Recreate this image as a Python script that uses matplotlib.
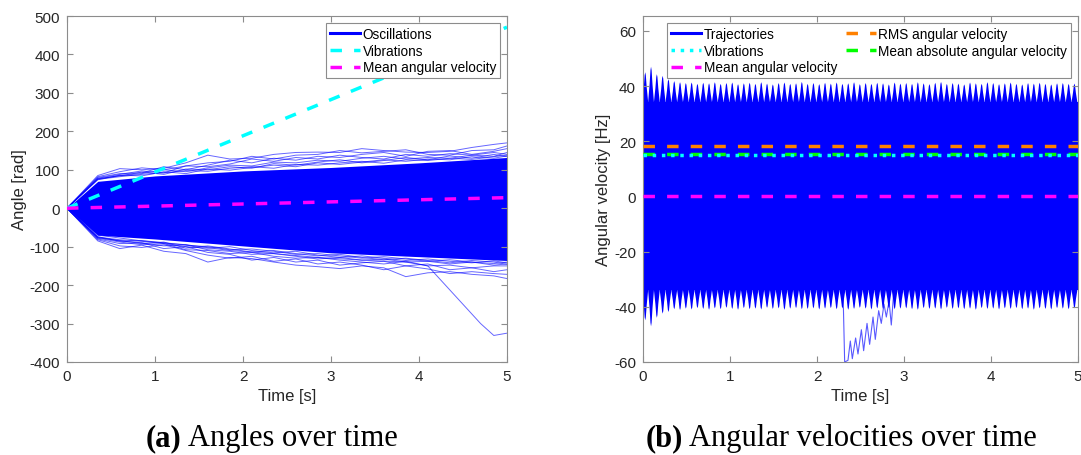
import numpy as np
import matplotlib
matplotlib.use("Agg")
import matplotlib.pyplot as plt
from matplotlib.lines import Line2D

# ---------------- data: (a) angles over time ----------------
angle_core_t = [0, 0.35, 1.0, 2.0, 3.0, 4.0, 5.0]
angle_core_upper = [0, 70, 84, 97, 106, 118, 132]
angle_core_lower = [0, -70, -80, -98, -116, -126, -136]

fringe_t = [0, 0.35, 0.6, 0.85, 1.1, 1.35, 1.6, 1.85, 2.1, 2.35, 2.6,
            2.85, 3.1, 3.35, 3.6, 3.85, 4.1, 4.35, 4.6, 4.85, 5.0]
fringe_upper = [
    [0, 85, 103, 100, 104, 118, 138, 128, 130, 140, 145, 146, 145, 155, 150, 146, 145, 148, 158, 166, 170],
    [0, 82, 95, 105, 100, 110, 118, 122, 135, 128, 138, 140, 150, 144, 148, 152, 140, 138, 150, 152, 162],
    [0, 80, 90, 92, 108, 100, 112, 125, 118, 130, 125, 135, 132, 140, 145, 135, 148, 150, 140, 148, 155],
    [0, 78, 88, 97, 92, 110, 108, 115, 128, 122, 132, 128, 138, 132, 128, 140, 135, 142, 138, 145, 140],
    [0, 76, 85, 90, 100, 95, 105, 112, 110, 120, 118, 125, 122, 130, 135, 128, 132, 130, 138, 135, 145],
    [0, 75, 82, 88, 92, 98, 96, 104, 108, 104, 114, 112, 118, 122, 117, 126, 124, 130, 127, 134, 138],
    [0, 74, 86, 84, 95, 90, 102, 99, 106, 112, 108, 118, 114, 120, 126, 122, 128, 126, 134, 130, 136],
    [0, 77, 84, 94, 88, 102, 100, 108, 104, 116, 112, 120, 126, 118, 124, 132, 126, 136, 130, 140, 134],
]
fringe_lower = [
    [0, -85, -105, -96, -112, -118, -140, -128, -131, -140, -148, -152, -157, -150, -155, -178, -168, -165, -172, -176, -183],
    [0, -82, -98, -102, -95, -110, -122, -130, -125, -138, -132, -145, -140, -148, -160, -150, -158, -170, -165, -170, -172],
    [0, -80, -92, -90, -105, -100, -115, -120, -135, -128, -140, -135, -148, -142, -138, -150, -145, -160, -155, -165, -160],
    [0, -78, -88, -95, -92, -108, -110, -118, -115, -125, -130, -128, -135, -140, -145, -138, -150, -148, -155, -150, -150],
    [0, -76, -85, -90, -98, -95, -108, -112, -120, -118, -125, -132, -128, -135, -132, -140, -138, -145, -140, -148, -145],
    [0, -75, -82, -86, -92, -100, -104, -100, -110, -116, -112, -122, -128, -124, -130, -136, -132, -138, -142, -137, -142],
    [0, -74, -86, -84, -90, -96, -100, -108, -106, -112, -120, -118, -124, -130, -126, -132, -138, -134, -140, -144, -140],
    [0, -77, -84, -92, -88, -104, -98, -106, -114, -110, -118, -124, -120, -128, -134, -130, -136, -142, -136, -140, -146],
]
outlier_t = [0, 0.35, 0.85, 1.35, 1.85, 2.35, 2.85, 3.35, 3.85, 4.1, 4.3, 4.5, 4.7, 4.85, 5.0]
outlier_v = [0, -70, -85, -95, -110, -118, -128, -135, -140, -150, -200, -250, -300, -331, -325]

angle_vib_t = [0, 5]
angle_vib_v = [0, 471]
angle_mean_t = [0, 5]
angle_mean_v = [0, 27.5]

# ---------------- data: (b) angular velocities over time ----------------
vel_spike_hz = 15.0
vel_first_spike_t = 0.02
vel_upper_trough = 34.4
vel_lower_trough = -33.8
vel_upper_peaks = [
    45.2, 47.2, 44.5, 43.9, 42.7, 42.0, 41.6, 41.3, 41.5, 41.0, 41.4, 41.2, 41.6, 41.0, 41.3,
    41.5, 40.9, 41.2, 41.4, 41.0, 41.6, 41.1, 40.8, 41.3, 41.5, 41.0, 41.2, 41.7, 41.0, 41.3,
    40.9, 41.4, 41.1, 41.5, 41.0, 41.2, 41.6, 40.9, 41.3, 41.0, 41.4, 41.2, 40.8, 41.5, 41.1,
    41.3, 41.0, 41.6, 41.2, 40.9, 41.4, 41.7, 41.0, 41.3, 41.1, 40.8, 41.5, 41.2, 41.0, 41.6,
    41.3, 40.9, 41.2, 41.5, 41.0, 40.8, 41.3, 41.1, 41.4, 41.0, 40.8, 41.2, 41.3, 41.0, 41.1,
]
vel_lower_peaks = [
    -44.7, -46.9, -43.8, -42.3, -41.7, -40.7, -41.0, -40.5, -40.8, -40.3, -40.6, -40.9, -40.4, -40.7, -40.2,
    -40.6, -40.9, -40.3, -40.7, -40.5, -40.8, -40.2, -40.6, -40.4, -40.9, -40.5, -40.3, -40.7, -40.6, -40.4,
    -40.8, -40.5, -40.3, -40.7, -40.4, -40.9, -40.6, -40.2, -40.5, -40.8, -40.4, -40.6, -40.3, -40.7, -40.5,
    -40.4, -40.7, -40.9, -40.3, -40.6, -40.5, -40.8, -40.2, -40.6, -40.4, -40.7, -40.5, -40.9, -40.3, -40.6,
    -40.5, -40.8, -40.4, -40.6, -40.3, -40.7, -40.5, -40.9, -40.4, -40.6, -40.8, -40.3, -40.5, -40.7, -40.4,
]
dip_t = [2.30, 2.318, 2.356, 2.383, 2.406, 2.444, 2.471, 2.51, 2.536, 2.575, 2.605,
         2.644, 2.67, 2.709, 2.739, 2.77, 2.797, 2.828, 2.854, 2.88]
dip_v = [-35.5, -60, -59.4, -52.4, -58.8, -51.3, -57.1, -48.3, -55.9, -46.0, -53.6,
         -43.7, -51.8, -41.4, -46.0, -39.0, -43.7, -37.9, -46.6, -35.5]

vel_rms = 18.4
vel_mean_abs = 15.5
vel_vib = 15.0
vel_mean = 0.0

# ---------------- styling ----------------
plt.rcParams['font.family'] = ['Liberation Sans', 'DejaVu Sans']
plt.rcParams['axes.unicode_minus'] = False

BLUE = (0, 0, 1)
CYAN = (0, 1, 1)
MAGENTA = (1, 0, 1)
ORANGE = (1, 0.5, 0)
GREEN = (0, 1, 0)
DASH = (3.3, 3.5)

fig = plt.figure(figsize=(10.81, 4.56), dpi=100)
W, H = 1081, 456
ax1 = fig.add_axes([67 / W, 1 - 363 / H, 440 / W, 346 / H])
ax2 = fig.add_axes([643 / W, 1 - 363 / H, 435 / W, 346 / H])


def style(ax):
    for s in ax.spines.values():
        s.set_color('#8c8c8c')
        s.set_linewidth(0.8)
    ax.tick_params(direction='in', top=True, right=True, length=4, width=0.8,
                   color='#8c8c8c', labelsize=11, labelcolor='#262626', pad=5)


# ---------------- panel (a) ----------------
ax1.fill_between(angle_core_t, angle_core_lower, angle_core_upper, color=BLUE, lw=0, zorder=1)
for vals in fringe_upper + fringe_lower:
    ax1.plot(fringe_t, vals, color=BLUE, lw=0.7, alpha=0.6, zorder=2)
ax1.plot(outlier_t, outlier_v, color=BLUE, lw=0.7, alpha=0.6, zorder=2)
ax1.plot(angle_vib_t, angle_vib_v, color=CYAN, lw=2.5, dashes=DASH, zorder=4)
ax1.plot(angle_mean_t, angle_mean_v, color=MAGENTA, lw=2.5, dashes=DASH, zorder=4)
ax1.set_xlim(0, 5)
ax1.set_ylim(-400, 500)
ax1.set_yticks(np.arange(-400, 501, 100))
ax1.set_xlabel('Time [s]', fontsize=12, color='#262626')
ax1.set_ylabel('Angle [rad]', fontsize=12, color='#262626', labelpad=2)
style(ax1)
h1 = [Line2D([], [], color=BLUE, lw=2.2),
      Line2D([], [], color=CYAN, lw=2.5, dashes=DASH),
      Line2D([], [], color=MAGENTA, lw=2.5, dashes=DASH)]
leg1 = ax1.legend(h1, ['Oscillations', 'Vibrations', 'Mean angular velocity'],
                  loc='upper right', fontsize=9.8, frameon=True, fancybox=False,
                  edgecolor='#8c8c8c', framealpha=1, handlelength=2.2,
                  handletextpad=0.2, labelspacing=0.2, borderpad=0.3, borderaxespad=0.5)
leg1.get_frame().set_linewidth(0.8)

# ---------------- panel (b) ----------------
ax2.fill_between([0, 5], vel_lower_trough, vel_upper_trough, color=BLUE, lw=0, zorder=1)
period = 1.0 / vel_spike_hz
shape_dx = [-0.5, -0.25, -0.1, 0.0, 0.1, 0.25, 0.5]
shape_f = [0.0, 0.5, 0.9, 1.0, 0.9, 0.5, 0.0]
for k, (pu, pl) in enumerate(zip(vel_upper_peaks, vel_lower_peaks)):
    tk = vel_first_spike_t + k * period
    xs = [tk + d * period for d in shape_dx]
    yu = [vel_upper_trough + f * (pu - vel_upper_trough) for f in shape_f]
    yl = [vel_lower_trough + f * (pl - vel_lower_trough) for f in shape_f]
    ax2.fill_between(xs, vel_upper_trough - 0.5, yu, color=BLUE, lw=0, zorder=1)
    ax2.fill_between(xs, yl, vel_lower_trough + 0.5, color=BLUE, lw=0, zorder=1)
ax2.plot(dip_t, dip_v, color=BLUE, lw=0.8, alpha=0.65, zorder=2)
ax2.plot([0, 5], [vel_rms] * 2, color=ORANGE, lw=2.5, dashes=DASH, zorder=4)
ax2.plot([0, 5], [vel_mean_abs] * 2, color=GREEN, lw=2.5, dashes=DASH, zorder=4)
ax2.plot([0, 5], [vel_vib] * 2, color=CYAN, lw=2.5, linestyle=':', zorder=5)
ax2.plot([0, 5], [vel_mean] * 2, color=MAGENTA, lw=2.5, dashes=DASH, zorder=4)
ax2.set_xlim(0, 5)
ax2.set_ylim(-60, 65.4)
ax2.set_yticks(np.arange(-60, 61, 20))
ax2.set_xlabel('Time [s]', fontsize=12, color='#262626')
ax2.set_ylabel('Angular velocity [Hz]', fontsize=12, color='#262626', labelpad=2)
style(ax2)
h2 = [Line2D([], [], color=BLUE, lw=2.2),
      Line2D([], [], color=CYAN, lw=2.5, linestyle=':'),
      Line2D([], [], color=MAGENTA, lw=2.5, dashes=DASH),
      Line2D([], [], color=ORANGE, lw=2.5, dashes=DASH),
      Line2D([], [], color=GREEN, lw=2.5, dashes=DASH)]
leg2 = ax2.legend(h2, ['Trajectories', 'Vibrations', 'Mean angular velocity',
                       'RMS angular velocity', 'Mean absolute angular velocity'],
                  loc='upper right', ncol=2, fontsize=9.8, frameon=True, fancybox=False,
                  edgecolor='#8c8c8c', framealpha=1, handlelength=2.2,
                  handletextpad=0.2, labelspacing=0.2, borderpad=0.3,
                  borderaxespad=0.5, columnspacing=0.6)
leg2.get_frame().set_linewidth(0.8)

# ---------------- captions ----------------
SERIF = ['Liberation Serif', 'DejaVu Serif']
cap_y = 1 - 446 / H
fig.canvas.draw()
for x0, tag, txt in [(146, '(a)', 'Angles over time'),
                     (646, '(b)', 'Angular velocities over time')]:
    t1 = fig.text(x0 / W, cap_y, tag, fontsize=22, fontweight='bold', family=SERIF,
                  ha='left', va='baseline')
    fig.canvas.draw()
    bb = t1.get_window_extent()
    fig.text(bb.x1 / fig.bbox.width + 6 / W, cap_y, txt, fontsize=22, family=SERIF,
             ha='left', va='baseline')

fig.savefig('out.png', dpi=100)
